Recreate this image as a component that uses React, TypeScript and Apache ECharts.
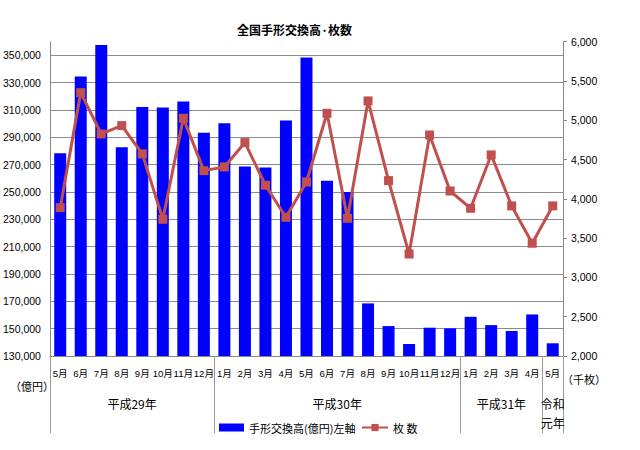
import React, { useEffect, useRef } from "react";
import * as echarts from "echarts";

const MONTHS = [
  "5月", "6月", "7月", "8月", "9月", "10月", "11月", "12月",
  "1月", "2月", "3月", "4月", "5月", "6月", "7月", "8月", "9月", "10月", "11月", "12月",
  "1月", "2月", "3月", "4月",
  "5月",
];
const AMOUNT = [
  278400, 334600, 357500, 282800, 312300, 311800, 316200, 293300,
  300300, 268700, 268000, 302300, 348500, 258300, 250000, 168500, 151900, 138800, 150700, 150200,
  158700, 152600, 148300, 160400,
  139300,
];
const COUNT = [
  3888, 5352, 4826, 4932, 4572, 3740, 5026, 4359,
  4406, 4716, 4173, 3766, 4215, 5089, 3753, 5246, 4232, 3298, 4813, 4100,
  3880, 4559, 3910, 3435,
  3910,
];
const GROUP_NAMES = ["平成29年", "平成30年", "平成31年", "令和\n元年"];
const GROUP_CENTERS = [4, 14, 22, 24.5];
const GROUP_BOUNDS = [0, 8, 20, 24, 25];
const LEFT_TICKS = [130000, 150000, 170000, 190000, 210000, 230000, 250000, 270000, 290000, 310000, 330000, 350000];
const BAR_NAME = "手形交換高(億円)左軸";
const LINE_NAME = "枚 数";

const FONT = "'Liberation Sans', 'Noto Sans CJK JP', sans-serif";
const CJK = "'Noto Sans CJK JP', sans-serif";
const fmt = (v: number) => String(v).replace(/\B(?=(\d{3})+(?!\d))/g, ",");

export default function App() {
  const ref = useRef<HTMLDivElement>(null);
  useEffect(() => {
    if (!ref.current) return;
    const chart = echarts.init(ref.current, null, { renderer: "svg" });
    const legendText = { fontFamily: CJK, fontSize: 11, color: "#000" };
    chart.setOption({
      animation: false,
      backgroundColor: "#fff",
      title: {
        text: "全国手形交換高·枚数",
        left: 232,
        top: 18,
        textStyle: { fontFamily: CJK, fontSize: 12, fontWeight: "bold", color: "#000" },
      },
      legend: [
        {
          left: 214,
          top: 417,
          itemWidth: 25,
          itemHeight: 8,
          itemGap: 4,
          textStyle: legendText,
          data: [{ name: BAR_NAME, icon: "rect" }],
        },
        {
          left: 356,
          top: 417,
          itemWidth: 26,
          itemHeight: 9,
          textStyle: legendText,
          data: [{ name: LINE_NAME }],
        },
      ],
      grid: { left: 47, right: 77, top: 41.7, bottom: 94, containLabel: false },
      xAxis: [
        {
          type: "category",
          data: MONTHS,
          position: "bottom",
          axisLine: { show: true, lineStyle: { color: "#888", width: 1 } },
          axisTick: { show: false },
          axisLabel: { interval: 0, margin: 13, fontFamily: FONT, fontSize: 9.6, color: "#000" },
        },
        {
          type: "value",
          min: 0,
          max: 25,
          position: "bottom",
          axisLine: { show: false },
          splitLine: { show: false },
          axisTick: {
            show: true,
            inside: false,
            length: 77,
            customValues: GROUP_BOUNDS,
            lineStyle: { color: "#999", width: 1 },
          },
          axisLabel: {
            show: true,
            customValues: GROUP_CENTERS,
            margin: 38,
            fontFamily: CJK,
            fontSize: 12,
            lineHeight: 19,
            color: "#000",
            formatter: (v: number) => {
              const i = GROUP_CENTERS.indexOf(v);
              return i >= 0 ? GROUP_NAMES[i] : "";
            },
          },
        },
      ],
      yAxis: [
        {
          type: "value",
          min: 130000,
          max: 360000,
          axisLine: { show: true, lineStyle: { color: "#888" } },
          axisTick: { show: false, customValues: LEFT_TICKS },
          axisLabel: {
            customValues: LEFT_TICKS,
            margin: 9,
            fontFamily: FONT,
            fontSize: 10.5,
            color: "#000",
            formatter: (v: number) => fmt(v),
          },
          splitLine: { show: true, lineStyle: { color: "#8c8c8c", width: 1 } },
        },
        {
          type: "value",
          min: 2000,
          max: 6000,
          interval: 500,
          position: "right",
          axisLine: { show: true, lineStyle: { color: "#888" } },
          axisTick: { show: true, inside: false, length: 4, lineStyle: { color: "#888" } },
          axisLabel: {
            margin: 8,
            fontFamily: FONT,
            fontSize: 10.5,
            color: "#000",
            formatter: (v: number) => fmt(v),
          },
          splitLine: { show: false },
        },
      ],
      graphic: [
        {
          type: "text",
          left: 10,
          top: 380,
          style: { text: "（億円）", font: "11px 'Noto Sans CJK JP'", fill: "#000" },
        },
        {
          type: "text",
          left: 562,
          top: 373,
          style: { text: "（千枚）", font: "11px 'Noto Sans CJK JP'", fill: "#000" },
        },
      ],
      series: [
        {
          name: BAR_NAME,
          type: "bar",
          xAxisIndex: 0,
          yAxisIndex: 0,
          data: AMOUNT,
          barWidth: 12,
          itemStyle: { color: "#0000FF" },
        },
        {
          name: LINE_NAME,
          type: "line",
          xAxisIndex: 0,
          yAxisIndex: 1,
          data: COUNT,
          symbol: "rect",
          symbolSize: 9,
          lineStyle: { color: "#C0504D", width: 3 },
          itemStyle: { color: "#C0504D" },
        },
      ],
    });
    return () => chart.dispose();
  }, []);
  return (
    <div
      ref={ref}
      style={{ position: "fixed", left: 0, top: 0, width: 640, height: 450 }}
    />
  );
}
